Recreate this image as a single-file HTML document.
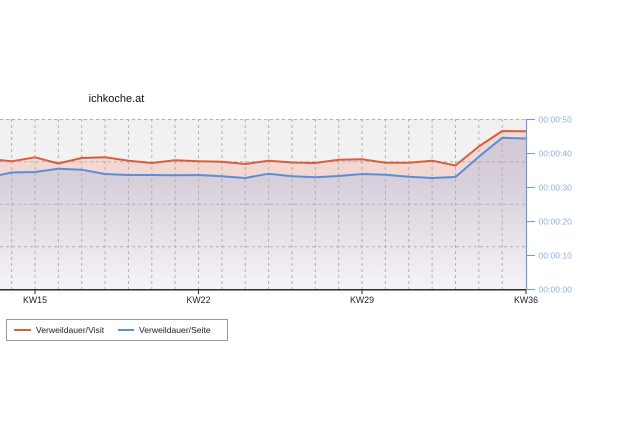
<!DOCTYPE html>
<html>
<head>
<meta charset="utf-8">
<style>
html,body{margin:0;padding:0;background:#fff;}
svg{display:block;}
text{font-family:"Liberation Sans",sans-serif;}
</style>
</head>
<body>
<svg width="620" height="434" viewBox="0 0 620 434" xmlns="http://www.w3.org/2000/svg">
<defs>
<linearGradient id="bg" x1="0" y1="119" x2="0" y2="290" gradientUnits="userSpaceOnUse">
<stop offset="0" stop-color="#f0f0f0"/>
<stop offset="1" stop-color="#f8f8f8"/>
</linearGradient>
<linearGradient id="bl" x1="0" y1="137" x2="0" y2="290" gradientUnits="userSpaceOnUse">
<stop offset="0" stop-color="#d3c9d6"/>
<stop offset="0.3" stop-color="#d7cfda"/>
<stop offset="1" stop-color="#f6f4f7"/>
</linearGradient>
<clipPath id="pc"><rect x="0" y="119" width="526" height="171"/></clipPath>
</defs>

<text x="116.5" y="102" font-size="11" text-anchor="middle" fill="#111">ichkoche.at</text>

<g clip-path="url(#pc)">
<rect x="0" y="119" width="526" height="171" fill="url(#bg)"/>
<!-- red area -->
<path fill="#f3d8d1" d="M-11.72,159 L11.64,161.3 L35,157.3 L58.36,163.5 L81.72,158 L105.08,157.3 L128.44,160.7 L151.8,163 L175.16,160.3 L198.52,161.3 L221.88,161.7 L245.24,164 L268.6,160.7 L291.96,162.5 L315.32,163 L338.68,159.7 L362.04,159.3 L385.4,162.7 L408.76,162.7 L432.12,160.7 L455.48,165.5 L478.84,146.5 L502.2,131 L526,131.3 L526,290 L-11.72,290 Z"/>
<!-- blue area -->
<path fill="url(#bl)" d="M-11.72,177.5 L11.64,172.5 L35,172 L58.36,168.7 L81.72,169.7 L105.08,174 L128.44,175 L151.8,175 L175.16,175.3 L198.52,175 L221.88,176.3 L245.24,178 L268.6,173.7 L291.96,176.3 L315.32,177.3 L338.68,176 L362.04,174 L385.4,174.7 L408.76,176.7 L432.12,178 L455.48,177 L478.84,156.7 L502.2,137.8 L526,138.5 L526,290 L-11.72,290 Z"/>
<!-- grid -->
<g stroke="#a8a8a8" stroke-width="1" stroke-dasharray="3,3" fill="none" opacity="0.85">
<line x1="0" y1="119.5" x2="526" y2="119.5"/>
<line x1="0" y1="161.8" x2="526" y2="161.8"/>
<line x1="0" y1="204.3" x2="526" y2="204.3"/>
<line x1="0" y1="246.8" x2="526" y2="246.8"/>
<line x1="11.64" y1="119" x2="11.64" y2="290"/>
<line x1="35" y1="119" x2="35" y2="290"/>
<line x1="58.36" y1="119" x2="58.36" y2="290"/>
<line x1="81.72" y1="119" x2="81.72" y2="290"/>
<line x1="105.08" y1="119" x2="105.08" y2="290"/>
<line x1="128.44" y1="119" x2="128.44" y2="290"/>
<line x1="151.8" y1="119" x2="151.8" y2="290"/>
<line x1="175.16" y1="119" x2="175.16" y2="290"/>
<line x1="198.52" y1="119" x2="198.52" y2="290"/>
<line x1="221.88" y1="119" x2="221.88" y2="290"/>
<line x1="245.24" y1="119" x2="245.24" y2="290"/>
<line x1="268.6" y1="119" x2="268.6" y2="290"/>
<line x1="291.96" y1="119" x2="291.96" y2="290"/>
<line x1="315.32" y1="119" x2="315.32" y2="290"/>
<line x1="338.68" y1="119" x2="338.68" y2="290"/>
<line x1="362.04" y1="119" x2="362.04" y2="290"/>
<line x1="385.4" y1="119" x2="385.4" y2="290"/>
<line x1="408.76" y1="119" x2="408.76" y2="290"/>
<line x1="432.12" y1="119" x2="432.12" y2="290"/>
<line x1="455.48" y1="119" x2="455.48" y2="290"/>
<line x1="478.84" y1="119" x2="478.84" y2="290"/>
<line x1="502.2" y1="119" x2="502.2" y2="290"/>
</g>
<!-- lines -->
<polyline fill="none" stroke="#d4603e" stroke-width="2" stroke-linejoin="round" points="-11.72,159 11.64,161.3 35,157.3 58.36,163.5 81.72,158 105.08,157.3 128.44,160.7 151.8,163 175.16,160.3 198.52,161.3 221.88,161.7 245.24,164 268.6,160.7 291.96,162.5 315.32,163 338.68,159.7 362.04,159.3 385.4,162.7 408.76,162.7 432.12,160.7 455.48,165.5 478.84,146.5 502.2,131 526,131.3"/>
<polyline fill="none" stroke="#5b8ed8" stroke-width="2" stroke-linejoin="round" points="-11.72,177.5 11.64,172.5 35,172 58.36,168.7 81.72,169.7 105.08,174 128.44,175 151.8,175 175.16,175.3 198.52,175 221.88,176.3 245.24,178 268.6,173.7 291.96,176.3 315.32,177.3 338.68,176 362.04,174 385.4,174.7 408.76,176.7 432.12,178 455.48,177 478.84,156.7 502.2,137.8 526,138.5"/>
</g>

<!-- bottom axis -->
<line x1="0" y1="289.8" x2="526.5" y2="289.8" stroke="#2a2a2a" stroke-width="1.5"/>
<g stroke="#2a2a2a" stroke-width="1">
<line x1="35" y1="290" x2="35" y2="294"/>
<line x1="198.52" y1="290" x2="198.52" y2="294"/>
<line x1="362.04" y1="290" x2="362.04" y2="294"/>
<line x1="526" y1="290" x2="526" y2="294"/>
</g>
<g font-size="8.8" fill="#222" text-anchor="middle">
<text x="35" y="303">KW15</text>
<text x="198.5" y="303">KW22</text>
<text x="362" y="303">KW29</text>
<text x="526" y="303">KW36</text>
</g>

<!-- right axis -->
<line x1="526.5" y1="119" x2="526.5" y2="290" stroke="#6f9bd9" stroke-width="1.2"/>
<g stroke="#6f9bd9" stroke-width="1">
<line x1="526" y1="119.5" x2="535" y2="119.5"/>
<line x1="526" y1="153.5" x2="535" y2="153.5"/>
<line x1="526" y1="187.5" x2="535" y2="187.5"/>
<line x1="526" y1="221.5" x2="535" y2="221.5"/>
<line x1="526" y1="255.5" x2="535" y2="255.5"/>
<line x1="526" y1="289.5" x2="535" y2="289.5"/>
</g>
<g font-size="8.6" fill="#8fb1e2">
<text x="538.5" y="122.5">00:00:50</text>
<text x="538.5" y="156.5">00:00:40</text>
<text x="538.5" y="190.5">00:00:30</text>
<text x="538.5" y="224.5">00:00:20</text>
<text x="538.5" y="258.5">00:00:10</text>
<text x="538.5" y="292.5">00:00:00</text>
</g>

<!-- legend -->
<rect x="6.5" y="319.5" width="221" height="21" fill="#fff" stroke="#9a9a9a" stroke-width="1"/>
<line x1="14" y1="330" x2="31" y2="330" stroke="#d4603e" stroke-width="2"/>
<text x="36" y="333" font-size="8.6" fill="#222">Verweildauer/Visit</text>
<line x1="118" y1="330" x2="134" y2="330" stroke="#5b8ed8" stroke-width="2"/>
<text x="139" y="333" font-size="8.6" fill="#222">Verweildauer/Seite</text>
</svg>
</body>
</html>
